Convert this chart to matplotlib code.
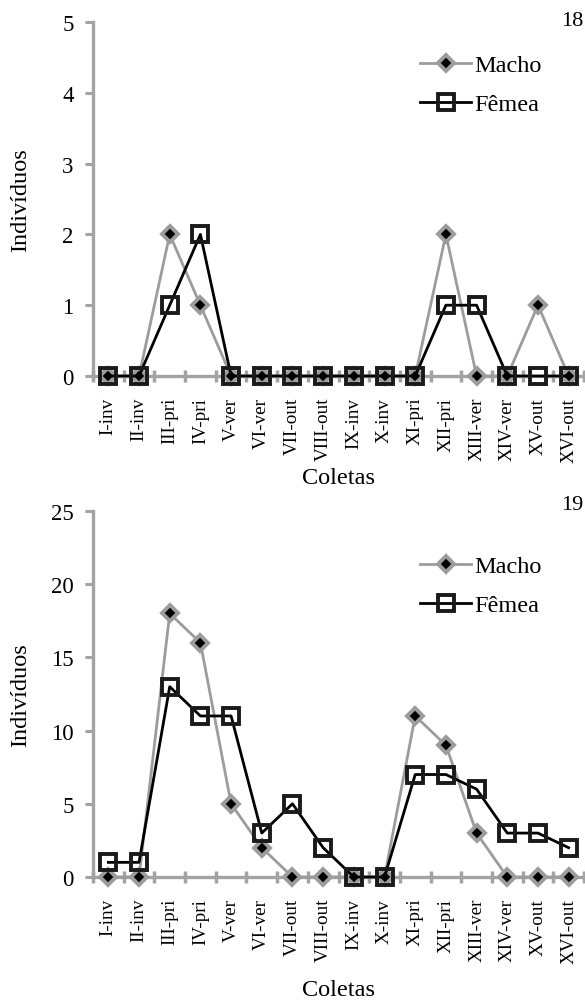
import matplotlib
matplotlib.use("Agg")

import matplotlib.pyplot as plt
from matplotlib.ticker import FixedLocator

# ── data ─────────────────────────────────────────────────────────────────────
coletas = ["I-inv", "II-inv", "III-pri", "IV-pri", "V-ver", "VI-ver",
           "VII-out", "VIII-out", "IX-inv", "X-inv", "XI-pri", "XII-pri",
           "XIII-ver", "XIV-ver", "XV-out", "XVI-out"]

macho_18 = [0, 0, 2, 1, 0, 0, 0, 0, 0, 0, 0, 2, 0, 0, 1, 0]
femea_18 = [0, 0, 1, 2, 0, 0, 0, 0, 0, 0, 0, 1, 1, 0, 0, 0]

macho_19 = [0, 0, 18, 16, 5, 2, 0, 0, 0, 0, 11, 9, 3, 0, 0, 0]
femea_19 = [1, 1, 13, 11, 11, 3, 5, 2, 0, 0, 7, 7, 6, 3, 3, 2]

yticks_18 = [0, 1, 2, 3, 4, 5]
yticks_19 = [0, 5, 10, 15, 20, 25]

plt.rcParams["font.family"] = ["Liberation Serif", "DejaVu Serif"]

GRAY = "#9c9c9c"
AXIS_GRAY = "#a3a3a3"

fig = plt.figure(figsize=(5.85, 10.03), dpi=100)
ax_top = fig.add_axes([93 / 585, 1 - 377 / 1003, 491 / 585, 354 / 1003])
ax_bot = fig.add_axes([93 / 585, 1 - 878 / 1003, 491 / 585, 366 / 1003])


def draw_panel(ax, macho, femea, yticks, leg_y, xlab_y):
    x = range(len(coletas))
    ax.plot(x, macho, color=GRAY, lw=2.0, marker="D", ms=8,
            mfc="black", mec=GRAY, mew=2.8, label="Macho", clip_on=False, zorder=3)
    ax.plot(x, femea, color="black", lw=2.0, marker="s", ms=11,
            mfc="none", mec="#1a1a1a", mew=2.8, label="Fêmea", clip_on=False, zorder=4)

    ax.set_xlim(-0.5, len(coletas) - 0.5)
    ax.set_ylim(yticks[0], yticks[-1])
    ax.set_yticks(yticks)
    ax.tick_params(axis="y", labelsize=16.5, length=6, width=2.2, color=AXIS_GRAY,
                   direction="out", pad=8)

    ax.set_xticks(list(x))
    ax.set_xticklabels(coletas, rotation=90, fontsize=13.8, va="top", ha="center")
    ax.tick_params(axis="x", which="major", length=0, pad=15)
    ax.xaxis.set_minor_locator(FixedLocator([i - 0.5 for i in range(len(coletas) + 1)]))
    ax.tick_params(axis="x", which="minor", length=9, width=2.5, color=AXIS_GRAY,
                   direction="inout")

    for side in ("top", "right"):
        ax.spines[side].set_visible(False)
    for side in ("left", "bottom"):
        ax.spines[side].set_color(AXIS_GRAY)
        ax.spines[side].set_linewidth(2.4)
        ax.spines[side].set_zorder(2)

    ax.set_ylabel("Indivíduos", fontsize=17.5)
    ax.yaxis.set_label_coords(-0.125, 0.5)
    ax.set_xlabel("Coletas", fontsize=17.5)
    ax.xaxis.set_label_coords(0.5, xlab_y)

    ax.legend(loc="upper left", bbox_to_anchor=(420 / 585, leg_y),
              bbox_transform=fig.transFigure, frameon=False, fontsize=17.5,
              handlelength=2.1, handletextpad=0.15, labelspacing=0.7,
              borderpad=0, borderaxespad=0)


draw_panel(ax_top, macho_18, femea_18, yticks_18, 1 - 55 / 1003, -0.257)
draw_panel(ax_bot, macho_19, femea_19, yticks_19, 1 - 556 / 1003, -0.28)

fig.text(0.997, 1 - 21 / 1003, "18", fontsize=16, ha="right", va="center")
fig.text(0.997, 1 - 506 / 1003, "19", fontsize=16, ha="right", va="center")

fig.savefig("out.png", dpi=100)
